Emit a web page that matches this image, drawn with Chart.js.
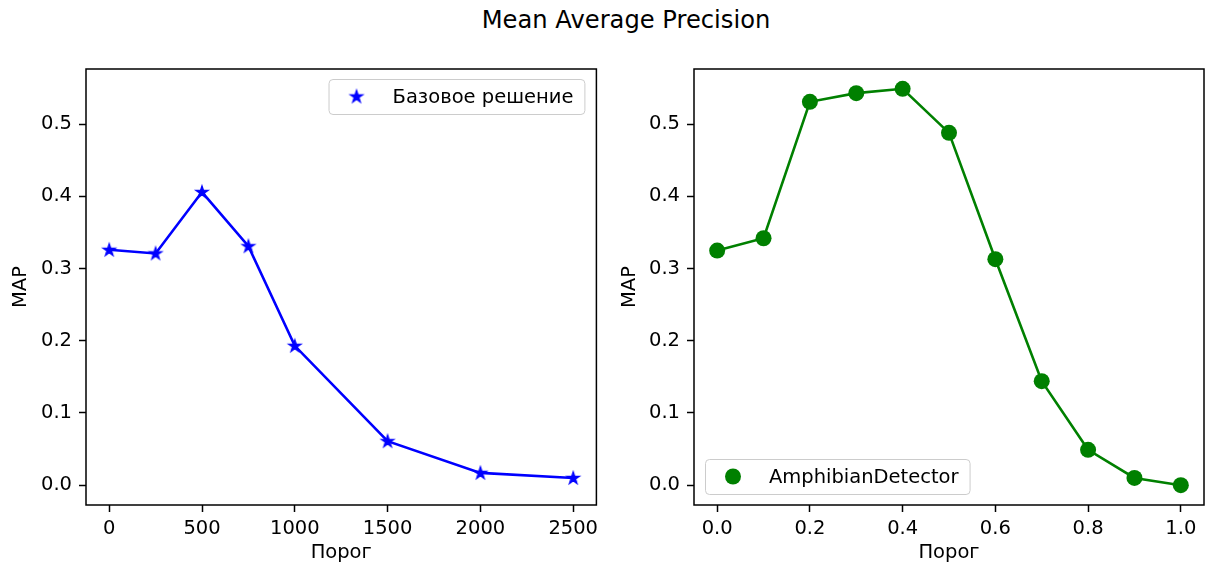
<!DOCTYPE html>
<html>
<head>
<meta charset="utf-8">
<script src="https://cdn.jsdelivr.net/npm/chart.js@4.4.0/dist/chart.umd.min.js"></script>
<style>
    body { margin: 0; background: #fff; width: 1205px; height: 565px; overflow: hidden; position: relative; font-family: 'DejaVu Sans'; }
    #titulo { position: absolute; top: 6px; left: 626px; transform: translateX(-50%); font-size: 24.2px; white-space: nowrap; color: #000; }
    #wrapBase { position: absolute; left: 0; top: 40px; }
    #wrapAmph { position: absolute; left: 602px; top: 40px; }
    canvas { display: block; }
</style>
</head>
<body>
<div id="titulo">Mean Average Precision</div>
<div id="wrapBase"><canvas id="chartBase" width="608" height="525"></canvas></div>
<div id="wrapAmph"><canvas id="chartAmph" width="610" height="525"></canvas></div>
<script>
// dados
const porogBase = [0, 250, 500, 750, 1000, 1500, 2000, 2500];
const mapBase = [0.326, 0.321, 0.406, 0.331, 0.193, 0.061, 0.017, 0.010];

const porogAmph = [0.0, 0.1, 0.2, 0.3, 0.4, 0.5, 0.6, 0.7, 0.8, 0.9, 1.0];
const mapAmph = [0.325, 0.342, 0.531, 0.543, 0.549, 0.488, 0.313, 0.144, 0.049, 0.010, 0.0];

const yTicks = [0.0, 0.1, 0.2, 0.3, 0.4, 0.5];
const xTicksBase = [0, 500, 1000, 1500, 2000, 2500];
const xTicksAmph = [0.0, 0.2, 0.4, 0.6, 0.8, 1.0];

const FONT = 'DejaVu Sans';
Chart.defaults.font.family = FONT;
Chart.defaults.font.size = 19.5;
Chart.defaults.color = '#000';

// estrela preenchida no estilo do matplotlib
function makeStar(color) {
    const c = document.createElement('canvas');
    c.width = 18; c.height = 18;
    const g = c.getContext('2d');
    const R = 6.4, r = R * 0.382;
    g.beginPath();
    for (let i = 0; i < 10; i++) {
        const rad = i % 2 === 0 ? R : r;
        const a = -Math.PI / 2 + i * Math.PI / 5;
        const px = 9 + rad * Math.cos(a), py = 9.3 + rad * Math.sin(a);
        if (i === 0) g.moveTo(px, py); else g.lineTo(px, py);
    }
    g.closePath();
    g.fillStyle = color;
    g.strokeStyle = color;
    g.lineWidth = 1.3;
    g.lineJoin = 'miter';
    g.fill();
    g.stroke();
    return c;
}
const starImg = makeStar('#0000ff');

// moldura + legenda desenhada dentro da área do gráfico
const frameLegend = {
    id: 'frameLegend',
    afterDatasetsDraw(chart, args, opts) {
        const { ctx, chartArea: a } = chart;
        ctx.save();
        ctx.font = `19.5px "${FONT}"`;
        const tw = ctx.measureText(opts.label).width;
        const w = 64 + tw + 11, h = 35;
        let bx, by;
        if (opts.corner === 'ur') { bx = a.right - 12 - w; by = a.top + 10; }
        else { bx = a.left + 11; by = a.bottom - 11 - h; }
        ctx.beginPath();
        ctx.roundRect(bx + 0.5, by + 0.5, w, h, 4);
        ctx.fillStyle = 'rgba(255,255,255,0.8)';
        ctx.fill();
        ctx.strokeStyle = '#cccccc';
        ctx.lineWidth = 1;
        ctx.stroke();
        const my = by + 17.5;
        if (opts.marker === 'star') {
            ctx.drawImage(starImg, bx + 28 - 9, my - 9);
        } else {
            ctx.beginPath();
            ctx.arc(bx + 28, my, 8, 0, Math.PI * 2);
            ctx.fillStyle = opts.color;
            ctx.fill();
        }
        ctx.fillStyle = '#000';
        ctx.textBaseline = 'middle';
        ctx.textAlign = 'left';
        ctx.fillText(opts.label, bx + 64, my + 1);
        ctx.restore();
    },
    afterDraw(chart) {
        const { ctx, chartArea: a } = chart;
        ctx.save();
        ctx.strokeStyle = '#000';
        ctx.lineWidth = 1.5;
        ctx.strokeRect(a.left, a.top, a.right - a.left, a.bottom - a.top);
        ctx.restore();
    }
};

function buildOptions(xMin, xMax, xTicks, xFmt, yAxisWidth, padRight, yTitlePad, legendOpts) {
    return {
        responsive: false,
        animation: false,
        layout: { padding: { top: 29, right: padRight, left: 0, bottom: 0 } },
        plugins: {
            legend: { display: false },
            tooltip: { enabled: false },
            frameLegend: legendOpts
        },
        scales: {
            x: {
                type: 'linear',
                min: xMin,
                max: xMax,
                afterBuildTicks: s => { s.ticks = xTicks.map(v => ({ value: v })); },
                afterFit: s => { s.height = 60; s.paddingLeft = 0; s.paddingRight = 0; },
                border: { display: false },
                grid: { drawOnChartArea: false, drawTicks: true, tickLength: 7, tickColor: '#000', tickWidth: 1.5 },
                ticks: { padding: 5, maxRotation: 0, autoSkip: false, callback: xFmt },
                title: { display: true, text: 'Порог', padding: { top: 0, bottom: 0 } }
            },
            y: {
                min: -0.02745,
                max: 0.57645,
                afterBuildTicks: s => { s.ticks = yTicks.map(v => ({ value: v })); },
                afterFit: s => { s.width = yAxisWidth; s.paddingTop = 0; s.paddingBottom = 0; },
                border: { display: false },
                grid: { drawOnChartArea: false, drawTicks: true, tickLength: 7, tickColor: '#000', tickWidth: 1.5 },
                ticks: { padding: 7, autoSkip: false, callback: v => v.toFixed(1) },
                title: { display: true, text: 'MAP', padding: { top: yTitlePad, bottom: 0 } }
            }
        }
    };
}

new Chart(document.getElementById('chartBase'), {
    type: 'line',
    data: {
        datasets: [{
            label: 'Базовое решение',
            data: porogBase.map((x, i) => ({ x: x, y: mapBase[i] })),
            borderColor: '#0000ff',
            borderWidth: 2.6,
            tension: 0,
            pointStyle: starImg,
            pointRadius: 9
        }]
    },
    options: buildOptions(-125, 2625, xTicksBase, v => String(v), 86, 4, 9,
        { corner: 'ur', label: 'Базовое решение', marker: 'star', color: '#0000ff' }),
    plugins: [frameLegend]
});

new Chart(document.getElementById('chartAmph'), {
    type: 'line',
    data: {
        datasets: [{
            label: 'AmphibianDetector',
            data: porogAmph.map((x, i) => ({ x: x, y: mapAmph[i] })),
            borderColor: '#008000',
            backgroundColor: '#008000',
            borderWidth: 2.6,
            tension: 0,
            pointStyle: 'circle',
            pointRadius: 8,
            pointBorderWidth: 0
        }]
    },
    options: buildOptions(-0.05, 1.05, xTicksAmph, v => v.toFixed(1), 92, 2, 16,
        { corner: 'll', label: 'AmphibianDetector', marker: 'circle', color: '#008000' }),
    plugins: [frameLegend]
});
</script>
</body>
</html>
